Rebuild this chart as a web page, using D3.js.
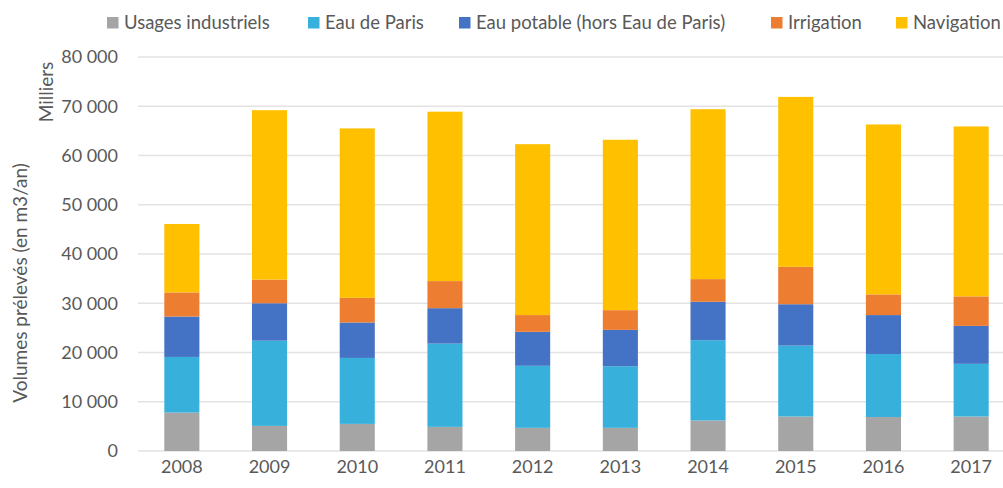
<!DOCTYPE html>
<html>
<head>
<meta charset="utf-8">
<script src="https://cdn.jsdelivr.net/npm/d3@7"></script>
<style>
  html, body { margin: 0; padding: 0; background: #fff; }
  svg { display: block; }
  text { font-family: Lato, "Open Sans", sans-serif; fill: #595959; }
</style>
</head>
<body>
<svg id="chart" width="1003" height="488"></svg>
<script>
// Volumes prélevés par usage, en milliers de m3/an
const years = ["2008", "2009", "2010", "2011", "2012", "2013", "2014", "2015", "2016", "2017"];
const seriesNames = ["Usages industriels", "Eau de Paris", "Eau potable (hors Eau de Paris)", "Irrigation", "Navigation"];
const usagesIndustriels = [7800, 5100, 5500, 4900, 4700, 4700, 6200, 7000, 6900, 7000];
const eauDeParis        = [11300, 17300, 13400, 16900, 12600, 12500, 16300, 14400, 12800, 10700];
const eauPotable        = [8200, 7600, 7200, 7200, 6900, 7400, 7800, 8400, 7900, 7700];
const irrigation        = [4900, 4800, 5000, 5500, 3400, 4000, 4600, 7600, 4200, 6000];
const navigation        = [13900, 34400, 34400, 34400, 34700, 34600, 34500, 34500, 34500, 34500];
const yTicks = [0, 10000, 20000, 30000, 40000, 50000, 60000, 70000, 80000];
const colors = ["#A5A5A5", "#37B1DB", "#4472C4", "#ED7D31", "#FFC000"];

const seriesValues = [usagesIndustriels, eauDeParis, eauPotable, irrigation, navigation];
const rows = years.map((yr, i) => {
  const r = { year: yr };
  seriesNames.forEach((s, k) => { r[s] = seriesValues[k][i]; });
  return r;
});
const stacked = d3.stack().keys(seriesNames)(rows);

const svg = d3.select("#chart");
const plotLeft = 138, plotRight = 1015, plotTop = 57, plotBottom = 451;

const x = d3.scaleBand().domain(years).range([plotLeft, plotRight]).paddingInner(0.6).paddingOuter(0.3);
const y = d3.scaleLinear().domain([0, 80000]).range([plotBottom, plotTop]);

const fmt = v => d3.format(",")(v).replace(/,/g, " ");

// horizontal gridlines
svg.append("g")
  .selectAll("line")
  .data(yTicks)
  .join("line")
  .attr("x1", plotLeft).attr("x2", plotRight)
  .attr("y1", d => y(d)).attr("y2", d => y(d))
  .attr("stroke", "#E3E3E3")
  .attr("stroke-width", 1.5);

// y axis labels
const yAxis = svg.append("g")
  .attr("transform", `translate(${plotLeft - 20},0)`)
  .call(d3.axisLeft(y).tickValues(yTicks).tickFormat(fmt).tickSize(0).tickPadding(0));
yAxis.select(".domain").remove();
yAxis.selectAll("text")
  .style("font-size", "18px")
  .style("font-family", "Lato, 'Open Sans', sans-serif")
  .attr("fill", "#595959");

// stacked bars
svg.append("g")
  .selectAll("g")
  .data(stacked)
  .join("g")
  .attr("fill", (d, i) => colors[i])
  .selectAll("rect")
  .data(d => d)
  .join("rect")
  .attr("x", d => x(d.data.year))
  .attr("width", x.bandwidth())
  .attr("y", d => y(d[1]))
  .attr("height", d => y(d[0]) - y(d[1]));

// x axis labels
const xAxis = svg.append("g")
  .attr("transform", `translate(0,${plotBottom + 6})`)
  .call(d3.axisBottom(x).tickSize(0).tickPadding(0));
xAxis.select(".domain").remove();
xAxis.selectAll("text")
  .attr("dy", "0.9em")
  .style("font-size", "18px")
  .style("font-family", "Lato, 'Open Sans', sans-serif")
  .attr("fill", "#595959");

// axis titles
svg.append("text")
  .attr("transform", "translate(27,283) rotate(-90)")
  .attr("text-anchor", "middle")
  .style("font-size", "19px")
  .text("Volumes prélevés (en m3/an)");
svg.append("text")
  .attr("transform", "translate(53,92) rotate(-90)")
  .attr("text-anchor", "middle")
  .style("font-size", "19px")
  .text("Milliers");

// legend
const legendX = [107, 308, 459, 771, 896];
const legend = svg.append("g")
  .selectAll("g")
  .data(seriesNames)
  .join("g")
  .attr("transform", (d, i) => `translate(${legendX[i]},0)`);
legend.append("rect")
  .attr("x", 0).attr("y", 17)
  .attr("width", 11.5).attr("height", 11.5)
  .attr("fill", (d, i) => colors[i]);
legend.append("text")
  .attr("x", 17).attr("y", 28.5)
  .style("font-size", "18.5px")
  .text(d => d);
</script>
</body>
</html>
